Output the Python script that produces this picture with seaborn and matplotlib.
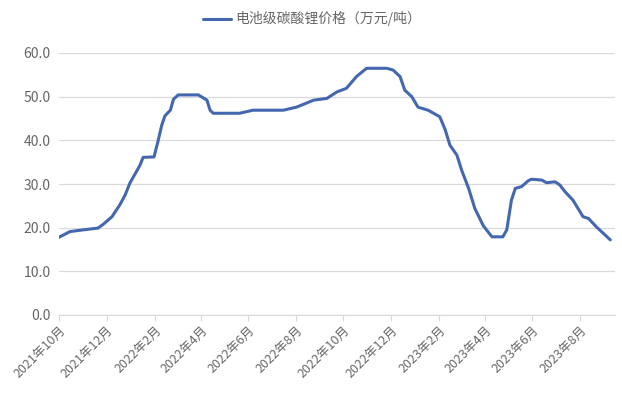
import matplotlib
matplotlib.use("Agg")
import matplotlib.pyplot as plt
import pandas as pd
import seaborn as sns

dates = [
    "2021-10-01", "2021-10-15", "2021-11-01", "2021-11-20", "2021-11-27", "2021-12-08",
    "2021-12-18", "2021-12-25", "2021-12-31", "2022-01-07", "2022-01-13", "2022-01-17",
    "2022-01-31", "2022-02-05", "2022-02-10", "2022-02-14", "2022-02-21", "2022-02-25",
    "2022-03-03", "2022-03-29", "2022-04-09", "2022-04-13", "2022-04-17", "2022-05-21",
    "2022-06-07", "2022-07-16", "2022-08-02", "2022-08-24", "2022-09-10", "2022-09-23",
    "2022-10-05", "2022-10-18", "2022-10-31", "2022-11-26", "2022-12-04", "2022-12-13",
    "2022-12-19", "2022-12-28", "2023-01-05", "2023-01-18", "2023-02-02", "2023-02-09",
    "2023-02-15", "2023-02-24", "2023-03-02", "2023-03-11", "2023-03-19", "2023-03-30",
    "2023-04-10", "2023-04-24", "2023-04-29", "2023-05-05", "2023-05-10", "2023-05-18",
    "2023-05-27", "2023-05-31", "2023-06-13", "2023-06-19", "2023-06-30", "2023-07-06",
    "2023-07-13", "2023-07-23", "2023-08-05", "2023-08-12", "2023-08-22", "2023-09-09",
]
prices = [
    17.8, 19.1, 19.5, 19.9, 20.8, 22.5,
    25.2, 27.5, 30.2, 32.4, 34.3, 36.1,
    36.2, 39.7, 43.5, 45.6, 46.9, 49.4,
    50.4, 50.4, 49.2, 46.9, 46.2, 46.2,
    46.9, 46.9, 47.6, 49.2, 49.6, 51.1,
    51.9, 54.6, 56.5, 56.5, 56.1, 54.6,
    51.5, 50.0, 47.6, 46.9, 45.4, 42.4,
    38.9, 36.6, 33.2, 29.0, 24.4, 20.4,
    17.9, 17.9, 19.5, 26.3, 29.0, 29.4,
    30.8, 31.1, 30.9, 30.3, 30.5, 29.8,
    28.2, 26.3, 22.5, 22.1, 20.2, 17.2,
]
series_name = "电池级碳酸锂价格（万元/吨）"
tick_months = ["2021-10-01", "2021-12-01", "2022-02-01", "2022-04-01", "2022-06-01",
               "2022-08-01", "2022-10-01", "2022-12-01", "2023-02-01", "2023-04-01",
               "2023-06-01", "2023-08-01"]
tick_labels = ["2021年10月", "2021年12月", "2022年2月", "2022年4月", "2022年6月",
               "2022年8月", "2022年10月", "2022年12月", "2023年2月", "2023年4月",
               "2023年6月", "2023年8月"]
y_ticks = [0, 10, 20, 30, 40, 50, 60]

sns.set_style("white")
plt.rcParams["font.family"] = ["Noto Sans CJK SC", "DejaVu Sans"]

df = pd.DataFrame({"date": pd.to_datetime(dates), "price": prices, "series": series_name})

fig = plt.figure(figsize=(6.22, 3.94), dpi=100)
ax = fig.add_axes([59 / 622, 1 - 315 / 394, 556 / 622, (315 - 53) / 394])

sns.lineplot(data=df, x="date", y="price", hue="series", palette=["#4468B0"],
             linewidth=2.2, ax=ax, legend=True)

text_color = "#666666"
ax.set_xlim(pd.Timestamp("2021-10-01"), pd.Timestamp("2023-09-15"))
ax.set_ylim(0, 60)
ax.set_yticks(y_ticks)
ax.set_yticklabels([f"{v:.1f}" for v in y_ticks], color=text_color, fontsize=10)
ax.set_xticks(pd.to_datetime(tick_months))
ax.set_xticklabels(tick_labels, rotation=45, ha="right", rotation_mode="anchor",
                   color=text_color, fontsize=9)
ax.set_xlabel("")
ax.set_ylabel("")
ax.grid(axis="y", color="#d9d9d9", linewidth=0.9)
ax.grid(axis="x", visible=False)
for s in ["top", "right", "left"]:
    ax.spines[s].set_visible(False)
ax.spines["bottom"].set_color("#d9d9d9")
ax.tick_params(axis="x", which="major", length=4, color="#d9d9d9", direction="out", pad=2, bottom=True)
ax.tick_params(axis="y", length=0, pad=6)

leg = ax.legend(loc="center", bbox_to_anchor=(0.455, 1.13), frameon=False,
                fontsize=10, handlelength=2.0, handletextpad=0.3)
for t in leg.get_texts():
    t.set_color(text_color)

fig.savefig("out.png", dpi=100, facecolor="white")
